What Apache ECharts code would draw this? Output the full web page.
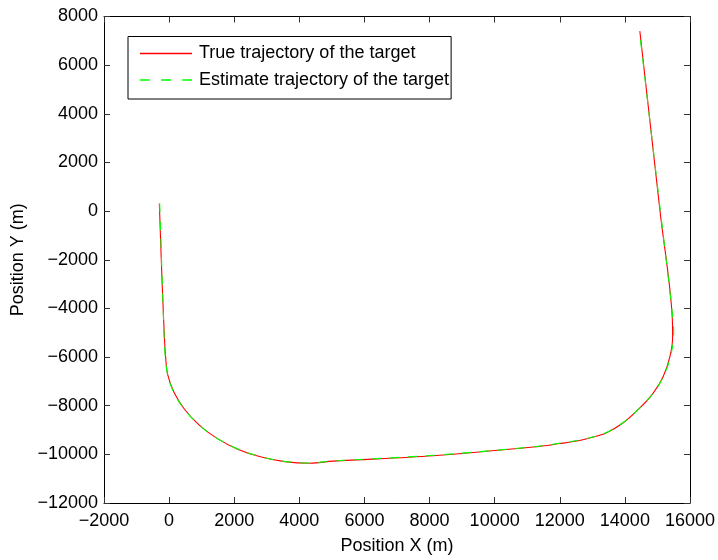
<!DOCTYPE html>
<html>
<head>
<meta charset="utf-8">
<script src="https://cdn.jsdelivr.net/npm/echarts@6/dist/echarts.min.js"></script>
<style>
  html, body { margin: 0; padding: 0; background: #fff; }
  #chart { width: 718px; height: 560px; }
</style>
</head>
<body>
<div id="chart"></div>
<script>
// Target track in the X-Y plane (metres)
const trueX = [-300, -210, -140, -110, -43, 157, 484, 927, 1472, 2105, 2805, 3549, 4320, 5043, 8114, 11186, 12005, 12568, 13000, 13440, 13950, 14462, 14871, 15178, 15384, 15467, 15455, 15080, 14460];
const trueY = [300, -3100, -5300, -5950, -6721, -7465, -8165, -8798, -9343, -9786, -10100, -10300, -10365, -10280, -10057, -9700, -9556, -9440, -9300, -9108, -8700, -8090, -7480, -6800, -5985, -5171, -4357, 0, 7400];

// Filter output for the same instants
const estX = [-290, -205, -150, -120, -50, 140, 470, 910, 1460, 2100, 2800, 3540, 4315, 5040, 8110, 11180, 12010, 12580, 13010, 13450, 13960, 14470, 14880, 15190, 15400, 15500, 15470, 15090, 14450];
const estY = [320, -3080, -5280, -5930, -6700, -7450, -8150, -8780, -9330, -9775, -10090, -10290, -10355, -10270, -10040, -9690, -9540, -9420, -9290, -9090, -8680, -8080, -7470, -6790, -5990, -5020, -4340, 20, 7380];

const seriesNames = ['True trajectory of the target', 'Estimate trajectory of the target'];
const seriesColors = ['#ff0000', '#00ff00'];

// Axis ranges and tick spacing
const xTicks = { min: -2000, max: 16000, step: 2000 };
const yTicks = { min: -12000, max: 8000, step: 2000 };

const pairs = (xs, ys) => xs.map((x, i) => [x, ys[i]]);
const minusFmt = v => String(v).replace('-', '\u2212');

// Legend swatches: a solid stroke and a three-dash stroke
const solidIcon = 'path://M0,0h53v1h-53z';
const dashIcon = 'path://M0,0h10v1h-10z M21.5,0h10v1h-10z M43,0h10v1h-10z';

const font = 'Liberation Sans, Arial, Helvetica, sans-serif';
const labelStyle = { color: '#000', fontSize: 18, fontFamily: font };

function xAxisCfg(pos, showLabels) {
  return {
    type: 'value', position: pos,
    min: xTicks.min, max: xTicks.max, interval: xTicks.step,
    splitLine: { show: false },
    axisLine: { show: true, onZero: false, lineStyle: { color: '#000', width: 1 } },
    axisTick: { show: true, inside: true, length: 6, lineStyle: { color: '#333' } },
    axisLabel: Object.assign({ show: showLabels, margin: 9, formatter: minusFmt }, labelStyle),
    name: showLabels ? 'Position X (m)' : '',
    nameLocation: 'middle', nameGap: 34,
    nameTextStyle: labelStyle
  };
}
function yAxisCfg(pos, showLabels) {
  return {
    type: 'value', position: pos,
    min: yTicks.min, max: yTicks.max, interval: yTicks.step,
    splitLine: { show: false },
    axisLine: { show: true, onZero: false, lineStyle: { color: '#000', width: 1 } },
    axisTick: { show: true, inside: true, length: 6, lineStyle: { color: '#333' } },
    axisLabel: Object.assign({ show: showLabels, margin: 6, formatter: minusFmt }, labelStyle),
    name: showLabels ? 'Position Y (m)' : '',
    nameLocation: 'middle', nameGap: 73, nameRotate: 90,
    nameTextStyle: labelStyle
  };
}

const chart = echarts.init(document.getElementById('chart'), null, { renderer: 'canvas' });
chart.setOption({
  animation: false,
  backgroundColor: '#fff',
  grid: { left: 104, top: 16.5, right: 28, bottom: 52.3, containLabel: false },
  xAxis: [xAxisCfg('bottom', true), xAxisCfg('top', false)],
  yAxis: [yAxisCfg('left', true), yAxisCfg('right', false)],
  legend: {
    left: 128, top: 36.5,
    orient: 'vertical',
    itemWidth: 52, itemHeight: 1.5, itemGap: 8.5,
    symbolKeepAspect: false,
    padding: [8, 2, 10, 12],
    borderColor: '#000', borderWidth: 1, borderRadius: 0,
    backgroundColor: '#fff',
    textStyle: Object.assign({ padding: [0, 0, 0, 2] }, labelStyle),
    data: [
      { name: seriesNames[0], icon: solidIcon, itemStyle: { color: seriesColors[0], borderWidth: 0 } },
      { name: seriesNames[1], icon: dashIcon, itemStyle: { color: seriesColors[1], borderWidth: 0 } }
    ]
  },
  series: [
    {
      name: seriesNames[0], type: 'line', xAxisIndex: 0, yAxisIndex: 0,
      data: pairs(trueX, trueY),
      showSymbol: false, symbol: 'none', smooth: 0.35,
      lineStyle: { color: seriesColors[0], width: 1.1 },
      itemStyle: { color: seriesColors[0] }, z: 2
    },
    {
      name: seriesNames[1], type: 'line', xAxisIndex: 0, yAxisIndex: 0,
      data: pairs(estX, estY),
      showSymbol: false, symbol: 'none', smooth: 0.35,
      lineStyle: { color: seriesColors[1], width: 1.1, type: [9, 9] },
      itemStyle: { color: seriesColors[1] }, z: 3
    }
  ]
});
</script>
</body>
</html>
